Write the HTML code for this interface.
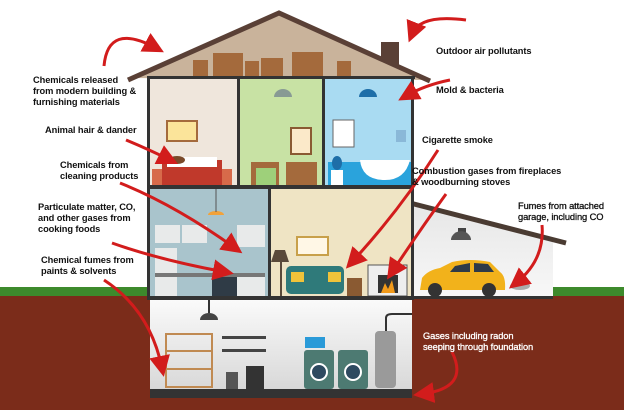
<!DOCTYPE html>
<html><head><meta charset="utf-8"><style>
body{margin:0;width:624px;height:410px;overflow:hidden;background:#fff;font-family:"Liberation Sans",Arial,sans-serif}
.t{position:absolute;font-size:9.3px;font-weight:bold;line-height:11px;color:#111;white-space:nowrap;letter-spacing:-0.1px}
</style></head><body>
<svg width="624" height="410" style="position:absolute;left:0;top:0">
<defs>
<marker id="a" markerWidth="7" markerHeight="7" refX="4" refY="3.5" orient="auto" markerUnits="strokeWidth"><path d="M0,0 L7,3.5 L0,7 z" fill="#d21c1c"/></marker>
<linearGradient id="bas" x1="0" y1="0" x2="0" y2="1"><stop offset="0" stop-color="#fafafa"/><stop offset="1" stop-color="#d8d8d8"/></linearGradient>
<linearGradient id="gar" x1="0" y1="0" x2="0" y2="1"><stop offset="0" stop-color="#e6e6e6"/><stop offset="1" stop-color="#f8f8f8"/></linearGradient>
</defs>
<rect x="0" y="294" width="624" height="116" fill="#7b2c1a"/>
<rect x="0" y="287" width="624" height="9" fill="#3d8a2c"/>
<polygon points="412,203 553,240 553,298 412,298" fill="url(#gar)"/>
<line x1="410" y1="203" x2="566" y2="243" stroke="#4a3b32" stroke-width="5"/>
<rect x="458" y="228" width="8" height="8" fill="#444"/>
<path d="M451,240 a8,7 0 0 1 20,0z" fill="#555"/>
<path d="M420,290 L422,278 Q428,270 440,268 L452,262 Q470,258 490,262 L500,272 Q506,276 505,290 z" fill="#f2b21b"/>
<path d="M455,266 L470,263 L470,272 L450,272z M474,263 L488,264 L494,272 L474,272z" fill="#2e3a48"/>
<circle cx="435" cy="290" r="7" fill="#333"/><circle cx="489" cy="290" r="7" fill="#333"/>
<ellipse cx="520" cy="286" rx="10" ry="4" fill="#aaa"/>
<rect x="381" y="42" width="18" height="24" fill="#5a4036"/>
<polygon points="279,14 130,78 428,80" fill="#c9b39b"/>
<polyline points="128,80 279,13 430,81" fill="none" stroke="#5a4036" stroke-width="5"/>
<g fill="#a46a3c"><rect x="193" y="60" width="15" height="18"/><rect x="213" y="53" width="30" height="25"/><rect x="245" y="61" width="14" height="17"/><rect x="261" y="58" width="22" height="20"/><rect x="292" y="52" width="31" height="26"/><rect x="337" y="61" width="14" height="17"/></g>
<rect x="150" y="79" width="88" height="108" fill="#efe6dc"/>
<rect x="240" y="79" width="84" height="108" fill="#c8e2a4"/>
<rect x="324" y="79" width="88" height="108" fill="#a9dbf2"/>
<rect x="328" y="162" width="84" height="24" fill="#2aa3dc"/>
<rect x="167" y="121" width="30" height="20" fill="#fbe49a" stroke="#a46a3c" stroke-width="2"/>
<rect x="162" y="160" width="60" height="26" fill="#c0392b"/><rect x="167" y="157" width="50" height="10" fill="#fff"/>
<ellipse cx="177" cy="160" rx="8" ry="4" fill="#7a4a2a"/>
<rect x="152" y="169" width="10" height="17" fill="#d76a4a"/><rect x="222" y="169" width="10" height="17" fill="#d76a4a"/>
<rect x="291" y="128" width="20" height="26" fill="#fbe9c9" stroke="#8a5a32" stroke-width="2"/>
<rect x="251" y="162" width="28" height="24" fill="#a46a3c"/><rect x="256" y="168" width="20" height="18" fill="#9ed07a"/>
<rect x="286" y="162" width="31" height="24" fill="#a46a3c"/>
<path d="M274,97 a9,8 0 0 1 18,0z" fill="#889a94"/>
<path d="M359,97 a9,8 0 0 1 18,0z" fill="#1e6ea8"/>
<rect x="333" y="120" width="21" height="27" fill="#fff" stroke="#666"/>
<path d="M360,160 Q362,180 385,180 Q405,180 410,160z" fill="#fff"/>
<ellipse cx="337" cy="163" rx="5" ry="7" fill="#1e6ea8"/><rect x="331" y="170" width="12" height="16" fill="#fff"/>
<rect x="396" y="130" width="10" height="12" fill="#8ab8d8"/>
<g fill="#333"><rect x="147" y="76" width="268" height="3"/><rect x="237" y="79" width="3" height="108"/><rect x="322" y="79" width="3" height="108"/><rect x="147" y="79" width="3" height="110"/><rect x="411" y="79" width="3" height="110"/><rect x="147" y="185" width="267" height="4"/></g>
<rect x="150" y="189" width="118" height="108" fill="#a9c4cc"/>
<rect x="271" y="189" width="141" height="108" fill="#efe4c4"/>
<g fill="#e8eaea"><rect x="155" y="225" width="25" height="18"/><rect x="182" y="225" width="25" height="18"/><rect x="237" y="225" width="28" height="22"/><rect x="155" y="248" width="22" height="48"/><rect x="237" y="276" width="28" height="20"/></g>
<rect x="212" y="277" width="25" height="19" fill="#2f3b46"/>
<rect x="155" y="273" width="110" height="4" fill="#777"/>
<path d="M208,215 a8,4 0 0 1 16,0z" fill="#f2a23a"/><line x1="216" y1="189" x2="216" y2="212" stroke="#555"/>
<rect x="297" y="237" width="31" height="18" fill="#fff7e6" stroke="#c8a04a" stroke-width="2"/>
<path d="M275,250 l10,0 l4,12 l-18,0z" fill="#5a4a3a"/><line x1="281" y1="262" x2="281" y2="296" stroke="#5a4a3a" stroke-width="2"/>
<rect x="286" y="266" width="58" height="28" rx="5" fill="#2f7a7a"/><rect x="291" y="272" width="13" height="10" fill="#f0c33a"/><rect x="328" y="272" width="13" height="10" fill="#f0c33a"/>
<rect x="347" y="278" width="15" height="18" fill="#8a5a32"/>
<rect x="368" y="265" width="39" height="31" fill="#eee" stroke="#555"/><rect x="378" y="275" width="20" height="18" fill="#333"/><path d="M381,293 l4,-10 l3,6 l4,-9 l3,13z" fill="#f29a1a"/>
<g fill="#333"><rect x="147" y="189" width="3" height="110"/><rect x="268" y="189" width="3" height="109"/><rect x="411" y="189" width="3" height="110"/><rect x="147" y="296" width="267" height="4"/><rect x="412" y="296" width="141" height="3"/></g>
<rect x="150" y="300" width="262" height="90" fill="url(#bas)"/>
<rect x="150" y="389" width="262" height="9" fill="#333"/>
<path d="M200,320 a9,7 0 0 1 18,0z" fill="#444"/><line x1="209" y1="300" x2="209" y2="313" stroke="#333" stroke-width="2"/>
<rect x="166" y="334" width="46" height="53" fill="none" stroke="#c08a52" stroke-width="2"/><line x1="166" y1="351" x2="212" y2="351" stroke="#c08a52" stroke-width="2"/><line x1="166" y1="369" x2="212" y2="369" stroke="#c08a52" stroke-width="2"/>
<rect x="222" y="336" width="44" height="3" fill="#444"/><rect x="222" y="349" width="44" height="3" fill="#444"/>
<rect x="246" y="366" width="18" height="23" fill="#333"/><rect x="226" y="372" width="12" height="17" fill="#555"/>
<rect x="304" y="350" width="30" height="39" rx="3" fill="#4d7a72"/><rect x="338" y="350" width="30" height="39" rx="3" fill="#4d7a72"/>
<circle cx="319" cy="372" r="8" fill="#2e4a60" stroke="#fff" stroke-width="2"/><circle cx="353" cy="372" r="8" fill="#2e4a60" stroke="#fff" stroke-width="2"/>
<rect x="305" y="337" width="20" height="11" fill="#2a9ad8"/>
<rect x="375" y="331" width="21" height="57" rx="4" fill="#9a9a9a"/>
<path d="M386,331 L386,318 Q386,314 392,314 L412,314" fill="none" stroke="#333" stroke-width="2"/>
<g fill="none" stroke="#d21c1c" stroke-width="3" marker-end="url(#a)">
<path d="M104,66 Q108,22 156,48"/>
<path d="M466,20 Q420,14 412,34"/>
<path d="M450,80 Q425,85 406,96"/>
<path d="M126,140 Q150,150 170,160"/>
<path d="M120,183 Q175,205 235,248"/>
<path d="M112,243 Q160,260 225,272"/>
<path d="M104,280 Q150,310 162,368"/>
<path d="M438,150 Q400,210 352,262"/>
<path d="M446,194 Q420,230 392,272"/>
<path d="M542,225 Q545,260 516,283"/>
<path d="M452,352 Q470,388 422,394"/>
</g>
</svg>
<div class="t" style="left:33px;top:75px">Chemicals released<br>from modern building &amp;<br>furnishing materials</div>
<div class="t" style="left:45px;top:125px">Animal hair &amp; dander</div>
<div class="t" style="left:60px;top:160px">Chemicals from<br>cleaning products</div>
<div class="t" style="left:38px;top:202px">Particulate matter, CO,<br>and other gases from<br>cooking foods</div>
<div class="t" style="left:41px;top:255px">Chemical fumes from<br>paints &amp; solvents</div>
<div class="t" style="left:436px;top:46px">Outdoor air pollutants</div>
<div class="t" style="left:436px;top:85px">Mold &amp; bacteria</div>
<div class="t" style="left:422px;top:135px">Cigarette smoke</div>
<div class="t" style="left:412px;top:166px">Combustion gases from fireplaces<br>&amp; woodburning stoves</div>
<div class="t" style="left:518px;top:201px;font-weight:normal;-webkit-text-stroke:0.3px #111">Fumes from attached<br>garage, including CO</div>
<div class="t" style="left:423px;top:331px;color:#fff;font-weight:normal;-webkit-text-stroke:0.3px #fff">Gases including radon<br>seeping through foundation</div>
</body></html>
